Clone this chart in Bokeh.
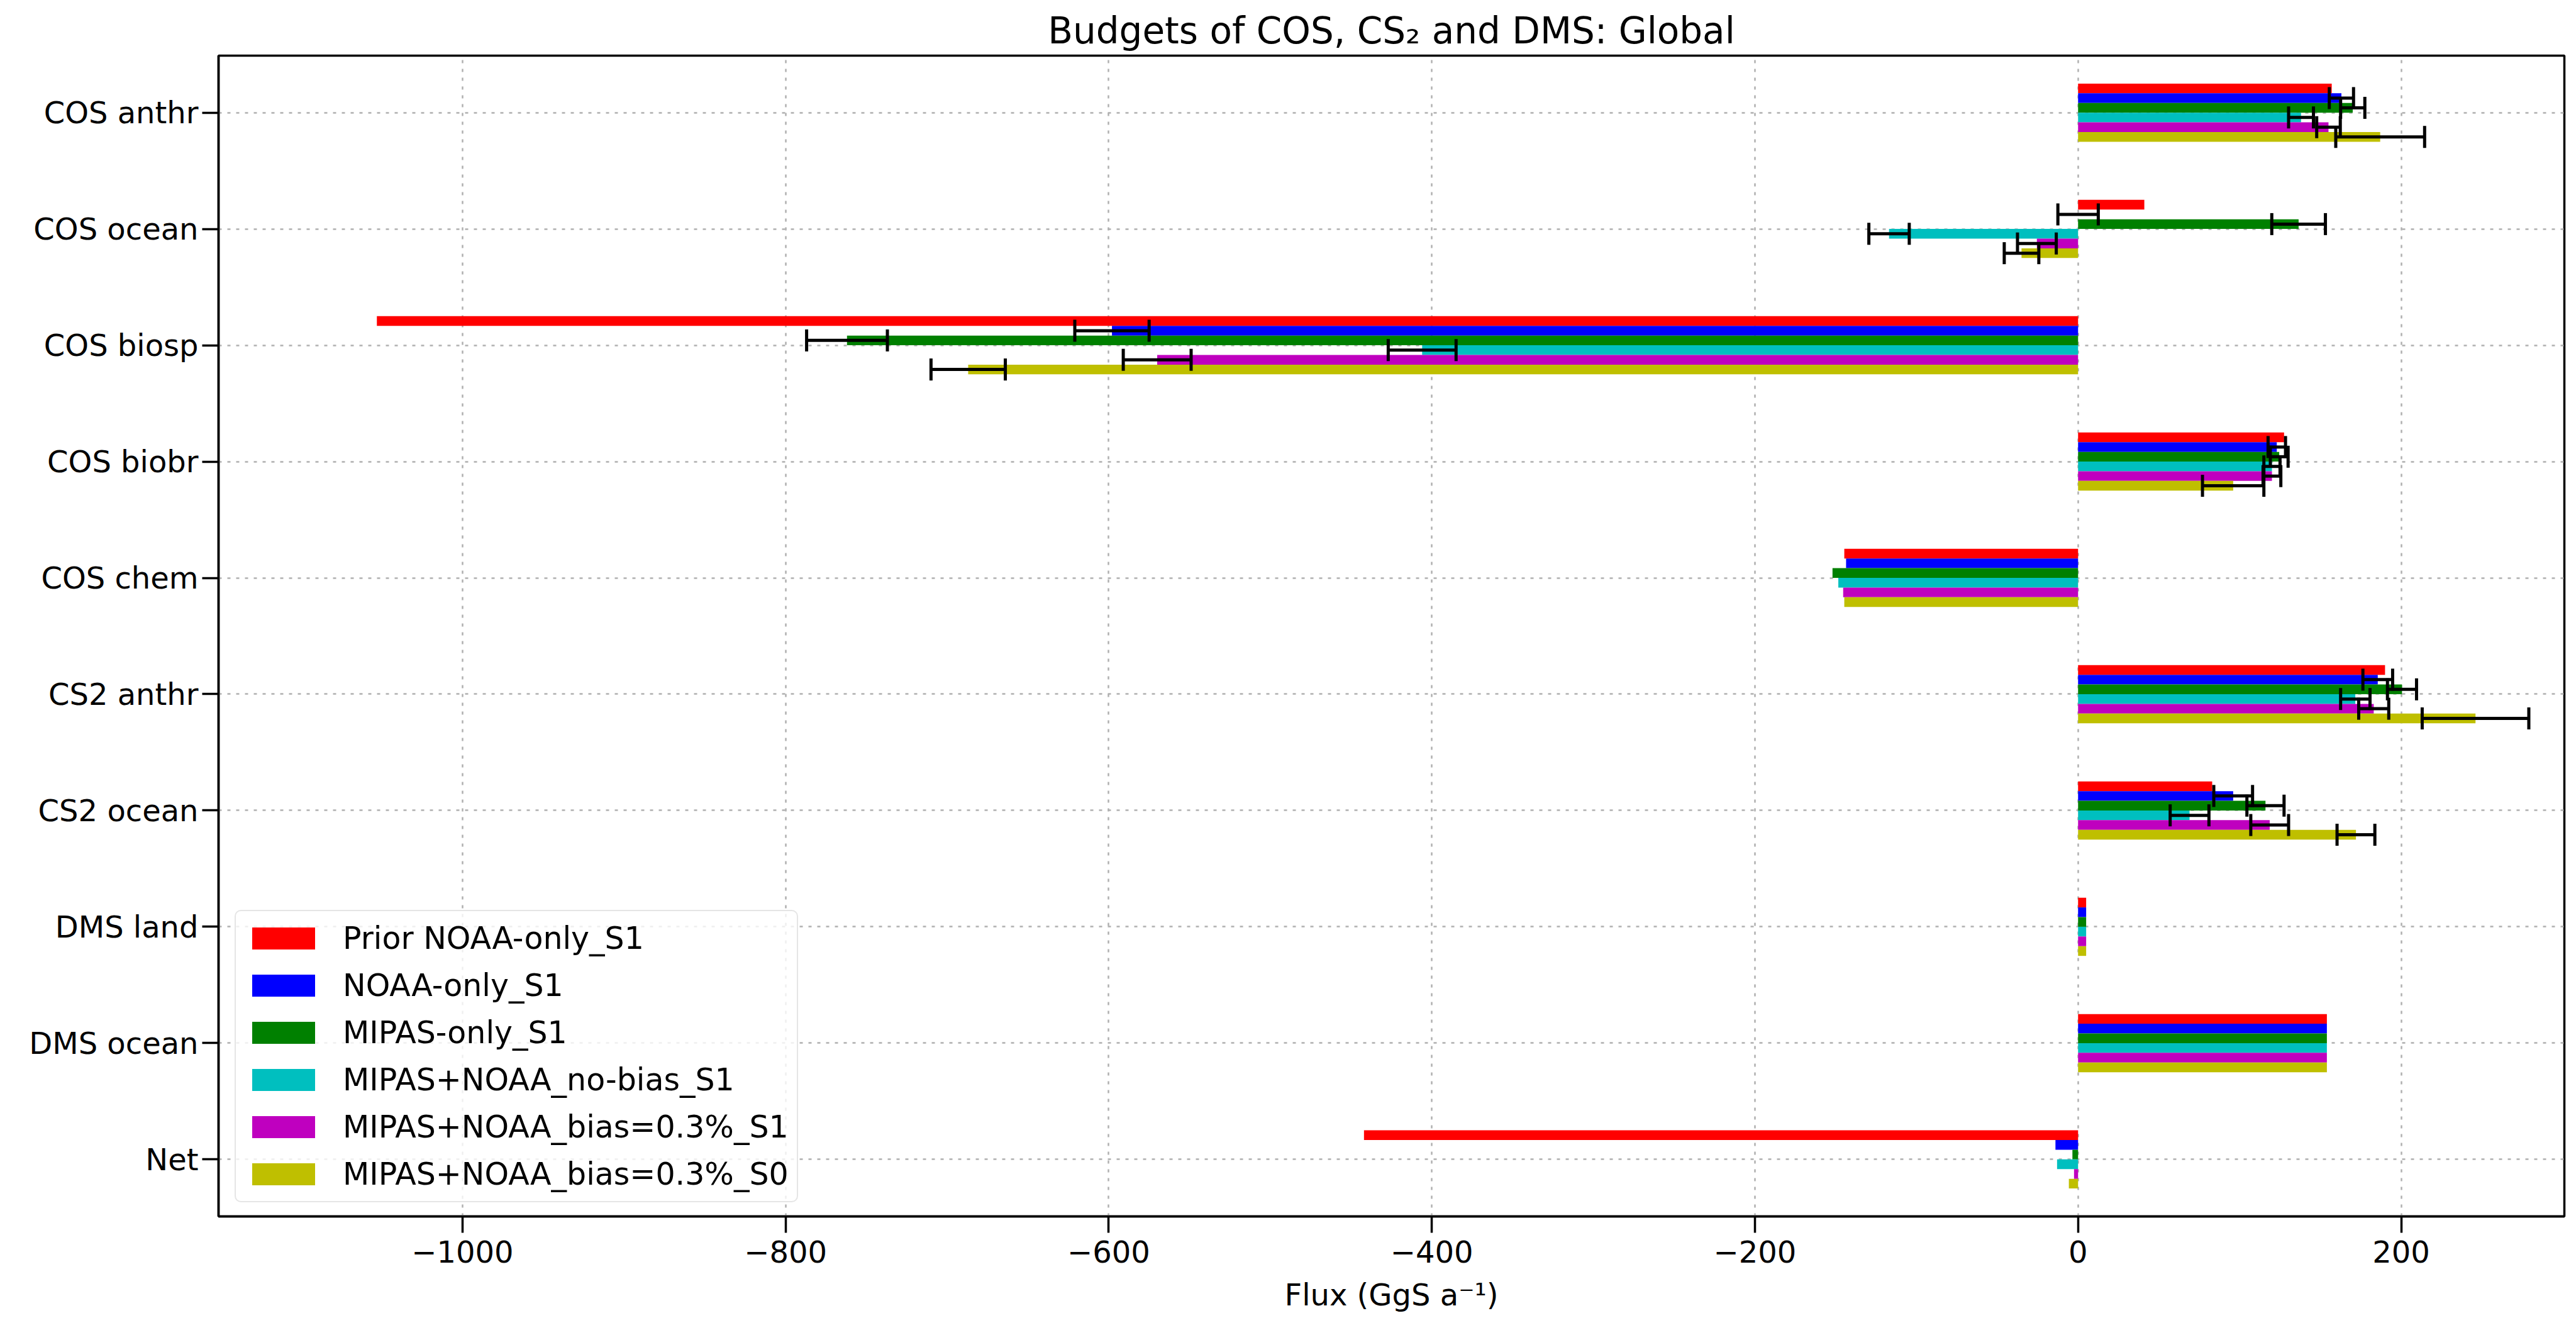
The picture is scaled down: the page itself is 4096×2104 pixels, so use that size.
import math

from bokeh.plotting import figure
from bokeh.models import ColumnDataSource, Whisker, TeeHead, FixedTicker, Range1d
from bokeh.embed import file_html
from bokeh.resources import INLINE

# Budget terms, top to bottom
categories = ["COS anthr", "COS ocean", "COS biosp", "COS biobr", "COS chem",
              "CS2 anthr", "CS2 ocean", "DMS land", "DMS ocean", "Net"]

series_names = ["Prior NOAA-only_S1", "NOAA-only_S1", "MIPAS-only_S1",
                "MIPAS+NOAA_no-bias_S1", "MIPAS+NOAA_bias=0.3%_S1",
                "MIPAS+NOAA_bias=0.3%_S0"]
series_colors = ["#ff0000", "#0000ff", "#008000", "#00bfbf", "#bf00bf", "#bfbf00"]

# Fluxes (GgS/a) per run, in category order
prior_noaa_s1 = [157, 41, -1053, 127.5, -144.7, 190, 83, 5, 154, -442]
noaa_s1 = [163, 0, -598, 123, -143.6, 185.5, 96, 5, 154, -14]
mipas_s1 = [170, 136.5, -762, 124.5, -152, 200.5, 116, 5, 154, -3.5]
mipas_noaa_nobias_s1 = [138, -117, -406, 120, -148.4, 171.6, 69, 5, 154, -13]
mipas_noaa_bias_s1 = [155, -25.5, -570, 120, -145.4, 183, 118.6, 5, 154, -2.5]
mipas_noaa_bias_s0 = [187, -35, -687, 96, -144.7, 246, 172, 5, 154, -5.7]

nan = float("nan")
# Posterior uncertainties (NaN = no error bar)
prior_noaa_s1_err = [nan] * 10
noaa_s1_err = [7.5, 12.5, 23, 5.4, nan, 9.2, 12, nan, nan, nan]
mipas_s1_err = [7.5, 16.6, 25, 5.5, nan, 9, 11.5, nan, nan, nan]
mipas_noaa_nobias_s1_err = [7.7, 12.5, 21, 5, nan, 9.1, 12, nan, nan, nan]
mipas_noaa_bias_s1_err = [7.3, 12, 21, 5.5, nan, 9.3, 11.7, nan, nan, nan]
mipas_noaa_bias_s0_err = [27.5, 10.7, 23, 19, nan, 33, 11.7, nan, nan, nan]

values = [prior_noaa_s1, noaa_s1, mipas_s1, mipas_noaa_nobias_s1,
          mipas_noaa_bias_s1, mipas_noaa_bias_s0]
errors = [prior_noaa_s1_err, noaa_s1_err, mipas_s1_err, mipas_noaa_nobias_s1_err,
          mipas_noaa_bias_s1_err, mipas_noaa_bias_s0_err]

x_ticks = [-1000, -800, -600, -400, -200, 0, 200]

FONT = "DejaVu Sans"
W, H = 4096, 2104

p = figure(width=W, height=H, output_backend="svg", toolbar_location=None,
           x_range=Range1d(-1151, 301), y_range=Range1d(-0.49, 9.49),
           min_border_left=347, min_border_right=19,
           min_border_top=88, min_border_bottom=170,
           title="Budgets of COS, CS\u2082 and DMS: Global",
           background_fill_color="white", border_fill_color="white")

n_cat = len(categories)
n_ser = len(series_names)
ypos = [n_cat - 1 - i for i in range(n_cat)]
bar_h = 0.5 / n_ser

# bars
for j, (name, color, vals) in enumerate(zip(series_names, series_colors, values)):
    off = 0.25 - (j + 0.5) * bar_h
    src = ColumnDataSource(dict(y=[yy + off for yy in ypos], v=vals))
    p.hbar(y="y", left=0, right="v", height=bar_h, source=src,
           fill_color=color, line_color=None, legend_label=name)

# error bars on top of all bars
for j, (vals, errs) in enumerate(zip(values, errors)):
    off = 0.25 - (j + 0.5) * bar_h
    ys, lo, hi = [], [], []
    for yy, v, e in zip(ypos, vals, errs):
        if not math.isnan(e):
            ys.append(yy + off)
            lo.append(v - e)
            hi.append(v + e)
    if not ys:
        continue
    esrc = ColumnDataSource(dict(y=ys, lo=lo, hi=hi))
    w = Whisker(source=esrc, base="y", lower="lo", upper="hi", dimension="width",
                line_color="black", line_width=5, level="annotation",
                upper_head=TeeHead(size=35, line_color="black", line_width=5),
                lower_head=TeeHead(size=35, line_color="black", line_width=5))
    p.add_layout(w)

# axes
p.xaxis.ticker = FixedTicker(ticks=x_ticks)
p.xaxis.major_label_overrides = {t: str(t).replace("-", "\u2212") for t in x_ticks}
p.yaxis.ticker = FixedTicker(ticks=ypos)
p.yaxis.major_label_overrides = {yy: c for yy, c in zip(ypos, categories)}
p.xaxis.axis_label = "Flux (GgS a\u207b\u00b9)"

for ax in (p.xaxis, p.yaxis):
    ax.axis_line_color = "black"
    ax.axis_line_width = 3.5
    ax.major_tick_in = 0
    ax.major_tick_out = 26
    ax.major_tick_line_width = 3.5
    ax.major_tick_line_color = "black"
    ax.minor_tick_line_color = None
    ax.major_label_text_font = FONT
    ax.major_label_text_font_size = "48px"
    ax.major_label_text_color = "black"
    ax.axis_label_text_font = FONT
    ax.axis_label_text_font_size = "48px"
    ax.axis_label_text_font_style = "normal"
    ax.axis_label_text_color = "black"
p.xaxis.major_label_standoff = 12
p.yaxis.major_label_standoff = 6
p.xaxis.axis_label_standoff = 20

# grid
p.xgrid.ticker = FixedTicker(ticks=x_ticks)
p.ygrid.ticker = FixedTicker(ticks=ypos)
for g in (p.xgrid, p.ygrid):
    g.grid_line_color = "#b0b0b0"
    g.grid_line_dash = "5 9"
    g.grid_line_width = 2.5

p.outline_line_color = "black"
p.outline_line_width = 3.5
p.outline_line_alpha = 1.0

# title
p.title.text_font = FONT
p.title.text_font_size = "58px"
p.title.text_font_style = "normal"
p.title.text_color = "black"
p.title.align = "center"
p.title.standoff = 12

# legend
lg = p.legend[0]
lg.location = (26, 22)
lg.margin = 0
lg.padding = 13
lg.spacing = 15
lg.glyph_width = 125
lg.glyph_height = 44
lg.label_height = 60
lg.label_standoff = 32
lg.label_text_font = FONT
lg.label_text_font_size = "49px"
lg.label_text_color = "black"
lg.border_line_color = "#cccccc"
lg.border_line_width = 2.5
lg.background_fill_alpha = 0.8
if "border_radius" in lg.properties():
    lg.border_radius = 10

open("out.html", "w").write(file_html(p, INLINE))
